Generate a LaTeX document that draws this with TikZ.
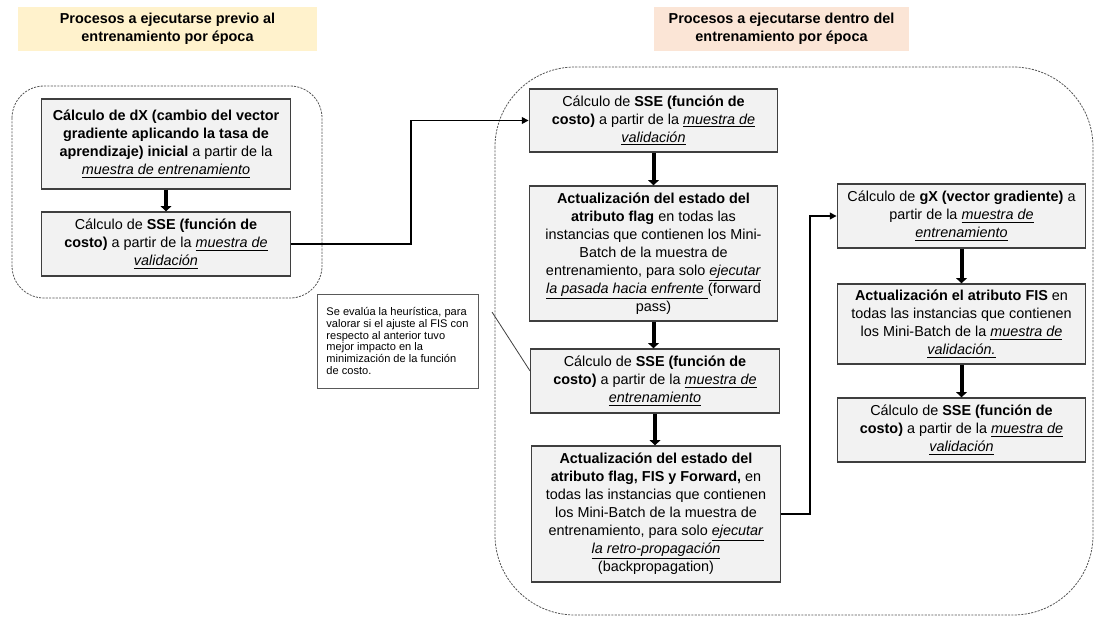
\documentclass[tikz,border=0pt]{standalone}
\usepackage{fontspec}
\setmainfont{Liberation Sans}
\usetikzlibrary{arrows.meta}

\definecolor{boxfill}{HTML}{F2F2F2}
\definecolor{boxline}{HTML}{3F3F3F}
\definecolor{hdryellow}{HTML}{FFF2CC}
\definecolor{hdrpeach}{HTML}{FBE5D6}
\definecolor{groupline}{HTML}{555555}
\definecolor{noteline}{HTML}{595959}

\newcommand{\mainsize}{\fontsize{10.8}{13.5}\selectfont}
\newcommand{\notesize}{\fontsize{8.3}{8.8}\selectfont}
\newcommand{\ulit}[1]{\underline{\textit{#1}}}

\begin{document}
\begin{tikzpicture}[x=0.75pt,y=-0.75pt,
  procbox/.style={draw=boxline, fill=boxfill, line width=0.9pt, align=center,
    inner sep=0pt, font=\mainsize, minimum width=186.5pt},
  header/.style={align=center, inner sep=0pt, font=\mainsize\bfseries,
    minimum height=33pt},
  notebox/.style={draw=noteline, fill=white, line width=0.7pt, align=left,
    inner sep=0pt, font=\notesize},
  group/.style={draw=groupline, line width=0.6pt, dash pattern=on 1.6pt off 0.9pt},
  bigarrow/.style={line width=3pt, -{Triangle[length=4pt,width=8pt]}},
  thinarrow/.style={line width=1.1pt, -{Triangle[length=5pt,width=5pt]}},
  callout/.style={draw=black!75, line width=0.6pt}]

\useasboundingbox (0,0) rectangle (1095,618);

% section headers
\node[header, fill=hdryellow, minimum width=224.25pt] (h1) at (167.5,29)
  {Procesos a ejecutarse previo al\\entrenamiento por época};
\node[header, fill=hdrpeach, minimum width=191.25pt] (h2) at (781.5,29)
  {Procesos a ejecutarse dentro del\\entrenamiento por época};

% dashed groups
\draw[group, rounded corners=24pt] (12,86) rectangle (322,298);
\draw[group, rounded corners=60pt] (495,67) rectangle (1093,615);

% before the epoch loop
\node[procbox, minimum height=67.5pt] (a1) at (166,144)
  {\textbf{Cálculo de dX (cambio del vector}\\
   \textbf{gradiente aplicando la tasa de}\\
   \textbf{aprendizaje) inicial} a partir de la\\
   \ulit{muestra de entrenamiento}};
\node[procbox, minimum height=48pt] (a2) at (166,244)
  {Cálculo de \textbf{SSE (función de}\\
   \textbf{costo)} a partir de la \ulit{muestra de}\\
   \ulit{validación}};

% inside the epoch loop, first column
\node[procbox, minimum height=47.25pt] (b1) at (653.5,120.5)
  {Cálculo de \textbf{SSE (función de}\\
   \textbf{costo)} a partir de la \ulit{muestra de}\\
   \ulit{validación}};
\node[procbox, minimum height=101.25pt] (b2) at (653.5,253.5)
  {\textbf{Actualización del estado del}\\
   \textbf{atributo flag} en todas las\\
   instancias que contienen los Mini-\\
   Batch de la muestra de\\
   entrenamiento, para solo \ulit{ejecutar}\\
   \ulit{la pasada hacia enfrente }(forward\\
   pass)};
\node[procbox, minimum height=48pt] (b3) at (655,381)
  {Cálculo de \textbf{SSE (función de}\\
   \textbf{costo)} a partir de la \ulit{muestra de}\\
   \ulit{entrenamiento}};
\node[procbox, minimum height=102pt] (b4) at (656,514)
  {\textbf{Actualización del estado del}\\
   \textbf{atributo flag, FIS y Forward,} en\\
   todas las instancias que contienen\\
   los Mini-Batch de la muestra de\\
   entrenamiento, para solo \ulit{ejecutar}\\
   \ulit{la retro-propagación}\\
   (backpropagation)};

% inside the epoch loop, second column
\node[procbox, minimum height=48pt] (c1) at (961.5,216)
  {Cálculo de \textbf{gX (vector gradiente)} a\\
   partir de la \ulit{muestra de}\\
   \ulit{entrenamiento}};
\node[procbox, minimum height=60pt] (c2) at (961.5,324)
  {\textbf{Actualización el atributo FIS} en\\
   todas las instancias que contienen\\
   los Mini-Batch de la \ulit{muestra de}\\
   \ulit{validación.}};
\node[procbox, minimum height=48pt] (c3) at (961.5,430)
  {Cálculo de \textbf{SSE (función de}\\
   \textbf{costo)} a partir de la \ulit{muestra de}\\
   \ulit{validación}};

% note on the heuristic
\node[notebox, minimum width=120.75pt, minimum height=70.5pt] (note) at (397.5,341)
  {Se evalúa la heurística, para\\
   valorar si el ajuste al FIS con\\
   respecto al anterior tuvo\\
   mejor impacto en la\\
   minimización de la función\\
   de costo.};
\coordinate (calltip) at (492,312);
\draw[callout] (calltip) -- ([yshift=7.5pt]b3.west);

% sequence arrows
\draw[bigarrow] (a1.south) -- (a2.north);
\draw[bigarrow] (b1.south) -- (b1.south |- b2.north);
\draw[bigarrow] (b2.south) -- (b2.south |- b3.north);
\draw[bigarrow] (b3.south) -- (b3.south |- b4.north);
\draw[bigarrow] (c1.south) -- (c2.north);
\draw[bigarrow] (c2.south) -- (c3.north);

% links between columns
\draw[thinarrow] (a2.east) -- ++(120,0) |- (b1.west);
\draw[thinarrow] (b4.east) -- ++(29,0) |- (c1.west);

\end{tikzpicture}
\end{document}
